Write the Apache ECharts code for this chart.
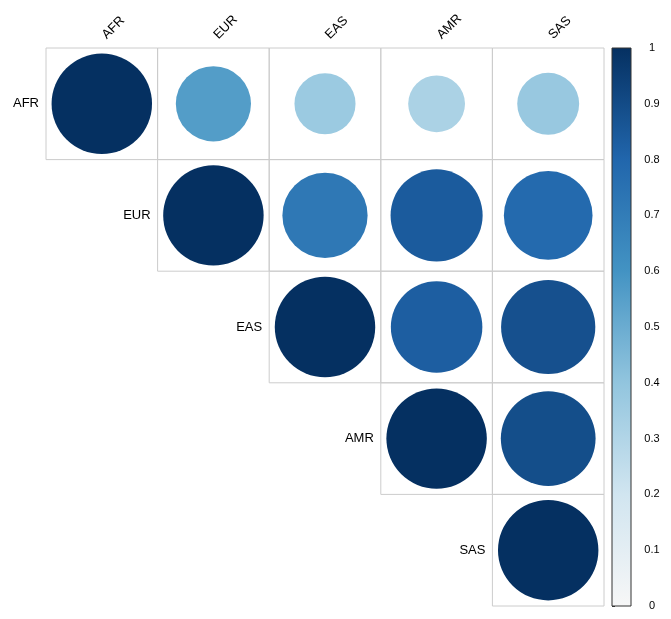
<!DOCTYPE html>
<html>
<head>
<meta charset="utf-8">
<script src="https://cdn.jsdelivr.net/npm/echarts@6/dist/echarts.min.js"></script>
<style>
  html, body { margin: 0; padding: 0; background: #fff; }
  #chart { width: 671px; height: 619px; }
</style>
</head>
<body>
<div id="chart"></div>
<script>
  // populations (same order on both axes)
  const regions = ['AFR', 'EUR', 'EAS', 'AMR', 'SAS'];

  // upper triangle of the correlation matrix, one row per population
  const rowAFR = [1.00, 0.56, 0.37, 0.32, 0.38];
  const rowEUR = [null, 1.00, 0.72, 0.84, 0.78];
  const rowEAS = [null, null, 1.00, 0.83, 0.88];
  const rowAMR = [null, null, null, 1.00, 0.89];
  const rowSAS = [null, null, null, null, 1.00];

  // colour legend scale
  const legendMin = 0;
  const legendMax = 1;
  const legendStep = 0.1;

  // blue half of RdBu, low -> high
  const blues = ['#f7f7f7', '#d1e5f0', '#92c5de', '#4393c3', '#2166ac', '#053061'];

  const rows = [rowAFR, rowEUR, rowEAS, rowAMR, rowSAS];
  const cells = [];
  rows.forEach(function (r, i) {
    r.forEach(function (v, j) {
      if (v !== null) cells.push([j, i, v]);
    });
  });

  const font = 'Liberation Sans';

  function renderCell(params, api) {
    const col = api.value(0), row = api.value(1), v = api.value(2);
    const c = api.coord([col, row]);
    const s = api.size([1, 1]);
    const children = [
      {
        type: 'rect',
        shape: { x: c[0] - s[0] / 2, y: c[1] - s[1] / 2, width: s[0], height: s[1] },
        style: { fill: 'none', stroke: '#cccccc', lineWidth: 1 }
      },
      {
        type: 'circle',
        shape: { cx: c[0], cy: c[1], r: Math.sqrt(Math.abs(v)) * 0.45 * s[0] },
        style: { fill: api.visual('color') }
      }
    ];
    if (col === row) {
      // row label left of the diagonal cell
      children.push({
        type: 'text',
        x: c[0] - s[0] / 2 - 7,
        y: c[1],
        style: { text: regions[row], align: 'right', verticalAlign: 'middle',
                 fontFamily: font, fontSize: 13, fill: '#000' }
      });
      // column label above the grid, rotated 45 degrees
      const top = api.coord([col, 0])[1] - s[1] / 2;
      children.push({
        type: 'text',
        x: c[0] + 2.5,
        y: top - 11,
        rotation: Math.PI / 4,
        style: { text: regions[col], align: 'left', verticalAlign: 'middle',
                 fontFamily: font, fontSize: 13, fill: '#000' }
      });
    }
    return { type: 'group', children: children };
  }

  function renderLegend(params, api) {
    const p0 = api.coord([0, legendMin]);
    const p1 = api.coord([1, legendMax]);
    const stops = blues.map(function (col, i) {
      return { offset: i / (blues.length - 1), color: col };
    });
    return {
      type: 'rect',
      shape: { x: p0[0], y: p1[1], width: p1[0] - p0[0], height: p0[1] - p1[1] },
      style: {
        fill: new echarts.graphic.LinearGradient(0, 1, 0, 0, stops),
        stroke: '#333333',
        lineWidth: 1
      }
    };
  }

  const chart = echarts.init(document.getElementById('chart'));
  const option = {
    animation: false,
    grid: [
      { left: 46, top: 48, width: 558, height: 558 },
      { left: 612, top: 48, width: 19, height: 558 }
    ],
    xAxis: [
      { gridIndex: 0, type: 'category', data: regions, show: false },
      { gridIndex: 1, type: 'value', min: 0, max: 1, show: false }
    ],
    yAxis: [
      { gridIndex: 0, type: 'category', data: regions, inverse: true, show: false },
      {
        gridIndex: 1, type: 'value', position: 'right',
        min: legendMin, max: legendMax, interval: legendStep,
        axisLine: { show: false },
        axisTick: { show: true, length: 3, lineStyle: { color: '#333' } },
        splitLine: { show: false },
        axisLabel: { fontFamily: font, fontSize: 11, color: '#000', align: 'center', margin: 21 }
      }
    ],
    visualMap: {
      show: false,
      seriesIndex: 0,
      dimension: 2,
      min: legendMin,
      max: legendMax,
      inRange: { color: blues }
    },
    series: [
      {
        type: 'custom',
        xAxisIndex: 0,
        yAxisIndex: 0,
        renderItem: renderCell,
        data: cells,
        clip: false
      },
      {
        type: 'custom',
        xAxisIndex: 1,
        yAxisIndex: 1,
        renderItem: renderLegend,
        data: [[0, 0]],
        clip: false,
        silent: true
      }
    ]
  };
  chart.setOption(option);
</script>
</body>
</html>
